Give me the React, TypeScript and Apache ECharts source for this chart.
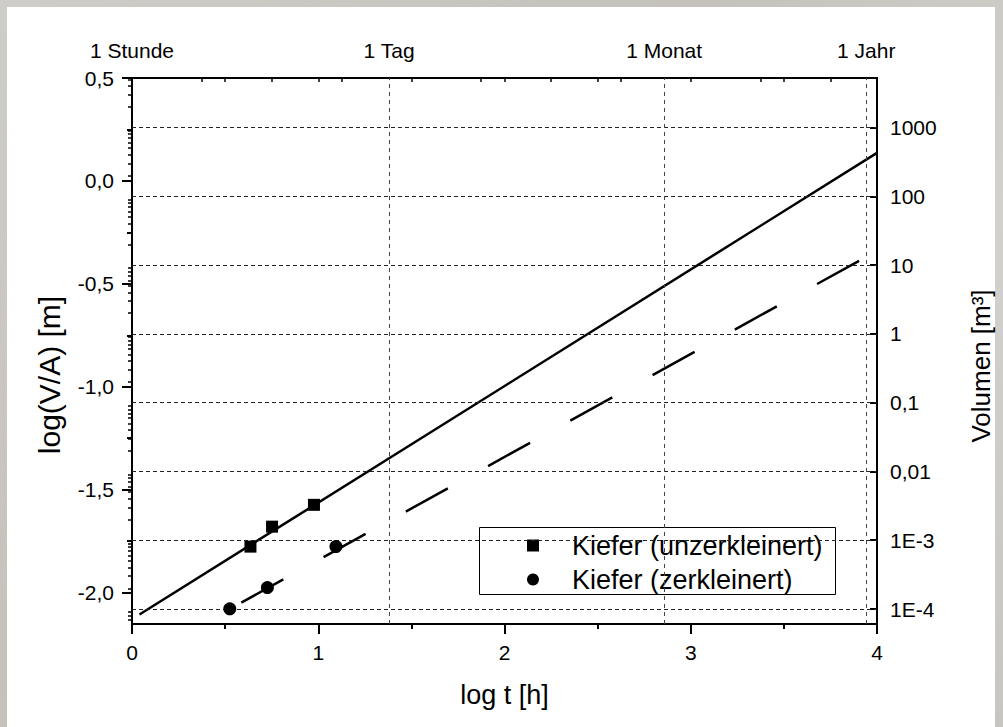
import React, { useEffect, useRef } from "react";
import * as echarts from "echarts";

// ---- data ----
const solidFitX = [0.04, 4.0];
const solidFitY = [-2.107, 0.136];
const dashedFitX = [0.587, 3.916];
const dashedFitY = [-2.049, -0.382];
const unzerkleinertX = [0.636, 0.752, 0.977];
const unzerkleinertY = [-1.777, -1.68, -1.574];
const zerkleinertX = [0.525, 0.727, 1.095];
const zerkleinertY = [-2.079, -1.976, -1.777];

const seriesNames = ["Kiefer (unzerkleinert)", "Kiefer (zerkleinert)"];

const leftTicks = [-2, -1.5, -1, -0.5, 0, 0.5];
const leftMinorTicks = [-1.75, -1.25, -0.75, -0.25, 0.25];
const volumeDecades = [-4, -3, -2, -1, 0, 1, 2, 3];
const volumeLabels = ["1E-4", "1E-3", "0,01", "0,1", "1", "10", "100", "1000"];
const timeMarks = [0, 1.3802, 2.8573, 3.9425];
const timeLabels = ["1 Stunde", "1 Tag", "1 Monat", "1 Jahr"];
const topTicks = [0.375, 0.5, 0.75, 1, 1.125, 1.5, 1.875, 2, 2.25, 2.5, 2.625, 3, 3.375, 3.5, 3.75];

const X_MIN = 0;
const X_MAX = 4;
const Y_MIN = -2.153;
const Y_MAX = 0.5;
const V_MIN = -4.218;
const V_MAX = 3.72;

const FONT = "'Liberation Sans', Arial, Helvetica, sans-serif";
const TICK_FONT = 21;

function logMinorTicks(): number[] {
  const out: number[] = [];
  for (let d = -5; d <= 3; d++) {
    for (let k = 2; k <= 9; k++) {
      const v = d + Math.log10(k);
      if (v > V_MIN && v < V_MAX) out.push(v);
    }
  }
  return out;
}

const pairs = (xs: number[], ys: number[]) => xs.map((x, i) => [x, ys[i]]);

export default function App() {
  const ref = useRef<HTMLDivElement>(null);

  useEffect(() => {
    if (!ref.current) return;
    const chart = echarts.init(ref.current, undefined, { renderer: "svg" });
    const black = "#000";
    const option: any = {
      animation: false,
      backgroundColor: "transparent",
      textStyle: { fontFamily: FONT, color: black },
      grid: { left: 132, right: 126, top: 78, bottom: 103, outerBoundsMode: "none" },
      legend: {
        orient: "vertical",
        left: 527,
        top: 532,
        itemWidth: 12,
        itemHeight: 12,
        itemGap: 7,
        padding: 0,
        data: [
          { name: seriesNames[0], icon: "rect" },
          { name: seriesNames[1], icon: "circle" },
        ],
        formatter: (name: string) => "{g|}" + name,
        textStyle: {
          fontFamily: FONT,
          fontSize: 27,
          lineHeight: 26,
          color: black,
          rich: { g: { width: 28 } },
        },
        selectedMode: false,
        z: 5,
      },
      graphic: [
        {
          type: "rect",
          z: 3,
          shape: { x: 479.5, y: 527.5, width: 356, height: 67 },
          style: { fill: "#fff", stroke: black, lineWidth: 1 },
        },
        {
          type: "text",
          x: 49,
          y: 375,
          rotation: Math.PI / 2,
          style: {
            text: "log(V/A) [m]",
            font: `30px ${FONT}`,
            fill: black,
            align: "center",
            verticalAlign: "middle",
          },
        },
        {
          type: "text",
          x: 981,
          y: 366,
          rotation: Math.PI / 2,
          style: {
            text: "Volumen [m³]",
            font: `26px ${FONT}`,
            fill: black,
            align: "center",
            verticalAlign: "middle",
          },
        },
      ],
      xAxis: [
        {
          type: "value",
          position: "bottom",
          min: X_MIN,
          max: X_MAX,
          interval: 1,
          name: "log t [h]",
          nameLocation: "middle",
          nameGap: 57,
          nameTextStyle: { fontSize: 27, color: black, fontFamily: FONT },
          axisLine: { show: true, onZero: false, lineStyle: { color: black, width: 2 } },
          axisTick: { show: true, inside: false, length: 10, lineStyle: { color: black, width: 2 } },
          minorTick: { show: true, splitNumber: 2, length: 5, lineStyle: { color: black, width: 2 } },
          axisLabel: { fontSize: TICK_FONT, color: black, margin: 18, fontFamily: FONT },
          splitLine: { show: false },
        },
        {
          type: "value",
          position: "top",
          min: X_MIN,
          max: X_MAX,
          axisLine: { show: true, onZero: false, lineStyle: { color: black, width: 2 } },
          axisTick: {
            show: true,
            inside: true,
            length: 4,
            customValues: topTicks,
            lineStyle: { color: black, width: 1.5 },
          },
          axisLabel: {
            show: true,
            customValues: timeMarks,
            fontSize: TICK_FONT,
            color: black,
            margin: 17,
            fontFamily: FONT,
            formatter: (v: number) => {
              const i = timeMarks.findIndex((t) => Math.abs(t - v) < 1e-6);
              return i >= 0 ? timeLabels[i] : "";
            },
          },
          splitLine: { show: false },
        },
      ],
      yAxis: [
        {
          type: "value",
          position: "left",
          min: Y_MIN,
          max: Y_MAX,
          axisLine: { show: true, onZero: false, lineStyle: { color: black, width: 2 } },
          axisTick: {
            show: true,
            inside: false,
            length: 10,
            customValues: leftTicks,
            lineStyle: { color: black, width: 2 },
          },
          axisLabel: {
            show: true,
            customValues: leftTicks,
            fontSize: TICK_FONT,
            color: black,
            margin: 18,
            fontFamily: FONT,
            formatter: (v: number) => v.toFixed(1).replace(".", ","),
          },
          splitLine: { show: false },
        },
        {
          type: "value",
          position: "right",
          min: V_MIN,
          max: V_MAX,
          axisLine: { show: true, onZero: false, lineStyle: { color: black, width: 2 } },
          axisTick: {
            show: true,
            inside: true,
            length: 7,
            customValues: volumeDecades,
            lineStyle: { color: black, width: 2 },
          },
          axisLabel: {
            show: true,
            customValues: volumeDecades,
            fontSize: TICK_FONT,
            color: black,
            margin: 13,
            fontFamily: FONT,
            formatter: (v: number) => {
              const i = volumeDecades.findIndex((t) => Math.abs(t - v) < 1e-6);
              return i >= 0 ? volumeLabels[i] : "";
            },
          },
          splitLine: { show: false },
        },
        {
          type: "value",
          position: "left",
          min: Y_MIN,
          max: Y_MAX,
          axisLine: { show: false },
          axisTick: {
            show: true,
            inside: false,
            length: 5,
            customValues: leftMinorTicks,
            lineStyle: { color: black, width: 2 },
          },
          axisLabel: { show: false },
          splitLine: { show: false },
        },
        {
          type: "value",
          position: "right",
          min: V_MIN,
          max: V_MAX,
          axisLine: { show: false },
          axisTick: {
            show: true,
            inside: true,
            length: 4,
            customValues: logMinorTicks(),
            lineStyle: { color: black, width: 1.5 },
          },
          axisLabel: { show: false },
          splitLine: { show: false },
        },
      ],
      series: [
        {
          type: "line",
          name: "grid-h",
          xAxisIndex: 0,
          yAxisIndex: 1,
          data: [],
          silent: true,
          markLine: {
            silent: true,
            symbol: "none",
            label: { show: false },
            lineStyle: { color: "#222", width: 1, type: [4, 3] },
            data: volumeDecades.map((v) => ({ yAxis: v })),
          },
        },
        {
          type: "line",
          name: "grid-v",
          xAxisIndex: 0,
          yAxisIndex: 0,
          data: [],
          silent: true,
          markLine: {
            silent: true,
            symbol: "none",
            label: { show: false },
            lineStyle: { color: "#444", width: 1, type: [4, 4] },
            data: timeMarks.slice(1).map((v) => ({ xAxis: v })),
          },
        },
        {
          type: "line",
          name: "fit-unzerkleinert",
          xAxisIndex: 0,
          yAxisIndex: 0,
          data: pairs(solidFitX, solidFitY),
          showSymbol: false,
          symbol: "none",
          lineStyle: { color: black, width: 2.5, type: "solid" },
        },
        {
          type: "line",
          name: "fit-zerkleinert",
          xAxisIndex: 0,
          yAxisIndex: 0,
          data: pairs(dashedFitX, dashedFitY),
          showSymbol: false,
          symbol: "none",
          lineStyle: { color: black, width: 2.5, type: [48, 46], cap: "butt" },
        },
        {
          type: "scatter",
          name: seriesNames[0],
          xAxisIndex: 0,
          yAxisIndex: 0,
          symbol: "rect",
          symbolSize: 12,
          itemStyle: { color: black, opacity: 1 },
          data: pairs(unzerkleinertX, unzerkleinertY),
          z: 6,
        },
        {
          type: "scatter",
          name: seriesNames[1],
          xAxisIndex: 0,
          yAxisIndex: 0,
          symbol: "circle",
          symbolSize: 13,
          itemStyle: { color: black, opacity: 1 },
          data: pairs(zerkleinertX, zerkleinertY),
          z: 6,
        },
      ],
    };
    chart.setOption(option);
    return () => chart.dispose();
  }, []);

  return (
    <div
      style={{
        position: "absolute",
        left: 0,
        top: 0,
        width: 1003,
        height: 727,
        background: "linear-gradient(135deg, #cfcdc7 0%, #c4c2bb 40%, #d3d1cb 70%, #c8c6c0 100%)",
        overflow: "hidden",
      }}
    >
      <div
        style={{
          position: "absolute",
          left: 7,
          top: 7,
          width: 988,
          height: 720,
          background: "#fff",
        }}
      />
      <div ref={ref} style={{ position: "absolute", left: 0, top: 0, width: 1003, height: 727 }} />
    </div>
  );
}
